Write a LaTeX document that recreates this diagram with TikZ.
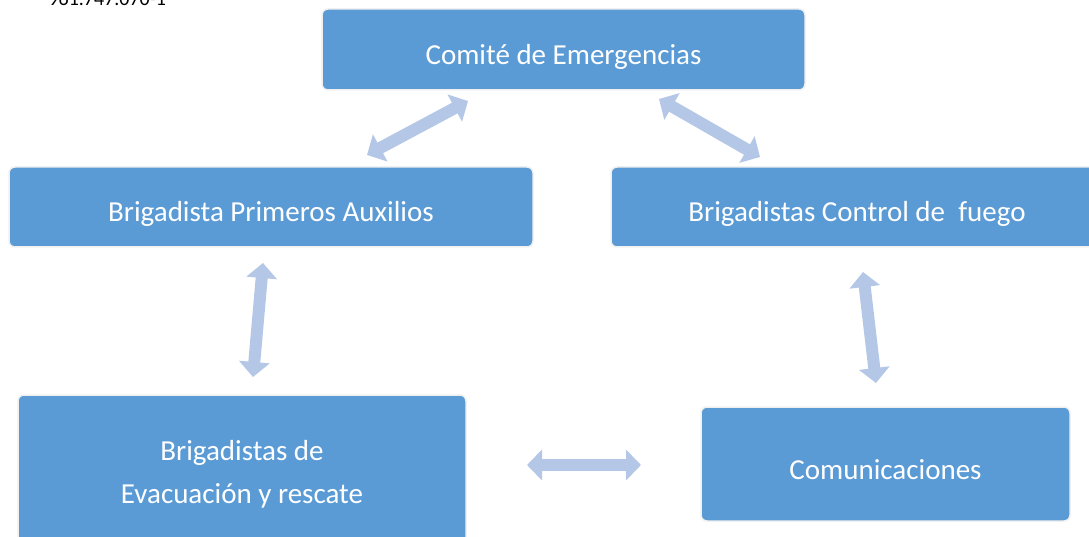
\documentclass[tikz,border=0pt]{standalone}
\usepackage{fontspec}
\setmainfont{Carlito}
\usetikzlibrary{arrows.meta,positioning}
\definecolor{boxblue}{HTML}{5B9BD5}
\definecolor{arrowblue}{HTML}{B4C7E7}
\tikzset{
  brigada/.style={rectangle,rounded corners=6pt,fill=boxblue,draw=gray!12,line width=1.5pt,
    text=white,font=\fontsize{29}{43}\selectfont,align=center,inner sep=0pt},
  linea/.style={brigada,text height=30pt,text depth=0pt},
  enlace/.style={arrowblue,line width=12pt,
    {Triangle[width=30pt,length=15pt]}-{Triangle[width=30pt,length=15pt]}}
}

\begin{document}
\begin{tikzpicture}[x=1pt,y=-1pt]
  \clip (0,0) rectangle (1089,537);
  \fill[white] (0,0) rectangle (1089,537);
  \node[anchor=base west,font=\fontsize{20}{22}\selectfont] (ref) at (45,6) {961.747.070-1};
  \node[linea,minimum width=483pt,minimum height=81pt] (comite) at (563.5,49.5) {Comité de Emergencias};
  \node[linea,minimum width=524pt,minimum height=80pt] (auxilios) at (271,207) {Brigadista Primeros Auxilios};
  \node[linea,minimum width=492pt,minimum height=80pt] (fuego) at (857,207) {Brigadistas Control de \ fuego};
  \node[brigada,minimum width=448pt,minimum height=158pt] (evacuacion) at (242,474) {Brigadistas de\\Evacuación y rescate};
  \node[linea,minimum width=369pt,minimum height=114pt] (comunica) at (885.5,464) {Comunicaciones};
  % puntas de las flechas
  \coordinate (a1) at (367,155);
  \coordinate (b1) at (468,101);
  \coordinate (a2) at (659,99);
  \coordinate (b2) at (760,157);
  \coordinate (a3) at (263,263);
  \coordinate (b3) at (253,377);
  \coordinate (a4) at (863,272);
  \coordinate (b4) at (876,383);
  \coordinate (a5) at (527,465);
  \coordinate (b5) at (641,465);
  \draw[enlace] (a1) -- (b1);
  \draw[enlace] (a2) -- (b2);
  \draw[enlace] (a3) -- (b3);
  \draw[enlace] (a4) -- (b4);
  \draw[enlace] (a5) -- (b5);
\end{tikzpicture}
\end{document}
